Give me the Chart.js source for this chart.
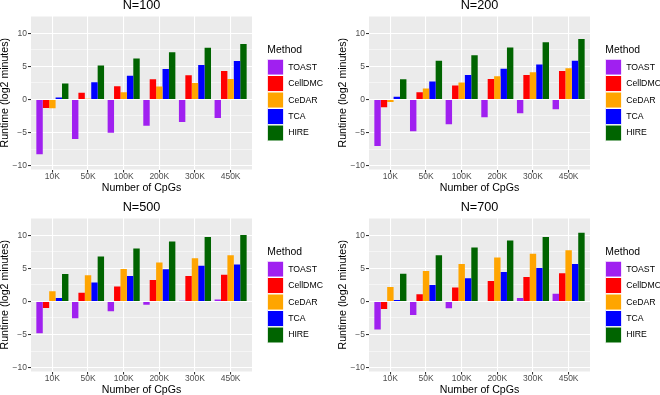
<!DOCTYPE html>
<html>
<head>
<meta charset="utf-8">
<script src="https://cdn.jsdelivr.net/npm/chart.js@4.4.0/dist/chart.umd.min.js"></script>
<style>
  body { margin: 0; background: #fff; }
  #wrap { position: relative; width: 660px; height: 395px; overflow: hidden; }
  #wrap canvas { position: absolute; }
</style>
</head>
<body>
<div id="wrap">
  <canvas id="c100" width="330" height="200" style="left:0;top:0"></canvas>
  <canvas id="c200" width="330" height="200" style="left:338px;top:0"></canvas>
  <canvas id="c500" width="330" height="200" style="left:0;top:202px"></canvas>
  <canvas id="c700" width="330" height="200" style="left:338px;top:202px"></canvas>
</div>
<script>
const categories = ["10K", "50K", "100K", "200K", "300K", "450K"];
const methods = ["TOAST", "CellDMC", "CeDAR", "TCA", "HIRE"];
const yTicks = [-10, -5, 0, 5, 10];

// runtime (log2 minutes), one row per method
const n100 = [
    [-8.3, -6.0, -5.05, -4.0, -3.4, -2.8],
    [-1.3, 1.0, 2.0, 3.05, 3.65, 4.3],
    [-1.35, 0.1, 1.1, 1.95, 2.5, 3.1],
    [0.3, 2.6, 3.6, 4.6, 5.2, 5.8],
    [2.4, 5.15, 6.2, 7.15, 7.8, 8.4]
];
const n200 = [
    [-7.05, -4.8, -3.75, -2.7, -2.1, -1.5],
    [-1.2, 1.1, 2.1, 3.1, 3.7, 4.3],
    [-0.4, 1.65, 2.55, 3.5, 4.1, 4.7],
    [0.4, 2.7, 3.7, 4.65, 5.3, 5.85],
    [3.05, 5.85, 6.7, 7.85, 8.65, 9.15]
];
const n500 = [
    [-4.8, -2.55, -1.5, -0.5, 0.1, 0.3],
    [-1.0, 1.3, 2.25, 3.25, 3.85, 4.05],
    [1.55, 3.95, 4.9, 5.9, 6.55, 7.0],
    [0.5, 2.85, 3.85, 4.85, 5.4, 5.6],
    [4.15, 6.8, 8.0, 9.05, 9.75, 10.05]
];
const n700 = [
    [-4.25, -2.05, -1.05, 0, 0.5, 1.15],
    [-1.15, 1.1, 2.1, 3.1, 3.7, 4.25],
    [2.2, 4.6, 5.65, 6.65, 7.2, 7.75],
    [0.2, 2.5, 3.5, 4.45, 5.05, 5.65],
    [4.2, 7.0, 8.15, 9.2, 9.75, 10.4]
];

const colors = ["#A020F0", "#FF0000", "#FFA500", "#0000FF", "#006400"];
const font = "'Liberation Sans', Arial, sans-serif";

// grey panel behind the bars
const panelBg = {
    id: "panelBg",
    beforeDraw(chart) {
        const { ctx, chartArea: a } = chart;
        ctx.save();
        ctx.fillStyle = "#EBEBEB";
        ctx.fillRect(a.left, a.top, a.right - a.left, a.bottom - a.top);
        ctx.restore();
    }
};

function isMajor(c) {
    return c.tick && yTicks.includes(c.tick.value);
}

// Chart
function makeChart(id, title, rows) {
    const ctx = document.getElementById(id).getContext("2d");

    return new Chart(ctx, {
        type: "bar",
        data: {
            datasets: methods.map((m, i) => ({
                label: m,
                data: rows[i].map((v, j) => ({ x: j + 1, y: v })),
                backgroundColor: colors[i],
                borderWidth: 0,
                categoryPercentage: 0.9,
                barPercentage: 1.0,
                yAxisID: "y"
            }))
        },
        options: {
            responsive: false,
            animation: false,
            font: { family: font },
            layout: { padding: 0 },
            scales: {
                x: {
                    type: "linear",
                    min: 0.4,
                    max: 6.6,
                    offset: false,
                    afterFit(s) { s.height = 30.5; },
                    ticks: {
                        stepSize: 1,
                        includeBounds: false,
                        autoSkip: false,
                        maxRotation: 0,
                        padding: 0,
                        color: "#4D4D4D",
                        font: { family: font, size: 8.5, lineHeight: 1 },
                        callback: v => categories[v - 1] ?? ""
                    },
                    grid: { color: "#FFFFFF", lineWidth: 1.07, offset: false, tickLength: 3, tickColor: "#333333", tickWidth: 1.07 },
                    border: { display: false },
                    title: {
                        display: true,
                        text: "Number of CpGs",
                        color: "#000",
                        font: { family: font, size: 10.6, lineHeight: 1 },
                        padding: { top: 2, bottom: 6.7 }
                    }
                },
                y: {
                    min: -10.6,
                    max: 12.62,
                    afterFit(s) { s.width = 31; },
                    ticks: {
                        stepSize: 2.5,
                        includeBounds: false,
                        autoSkip: false,
                        padding: 1,
                        color: "#4D4D4D",
                        font: { family: font, size: 8.5 },
                        callback: v => yTicks.includes(v) ? String(v).replace("-", "\u2212") : ""
                    },
                    grid: {
                        color: "#FFFFFF",
                        lineWidth: c => isMajor(c) ? 1.07 : 0.53,
                        tickLength: 3,
                        tickColor: c => isMajor(c) ? "#333333" : "rgba(0,0,0,0)",
                        tickWidth: 1.07
                    },
                    border: { display: false },
                    title: {
                        display: true,
                        text: "Runtime (log2 minutes)",
                        color: "#000",
                        font: { family: font, size: 10.6, lineHeight: 1 },
                        padding: { top: 0, bottom: 0 }
                    }
                },
                // empty space between panel and legend
                gap: {
                    type: "linear",
                    position: "right",
                    afterFit(s) { s.width = 15.35; },
                    ticks: { display: false },
                    grid: { display: false, drawTicks: false },
                    border: { display: false }
                }
            },
            plugins: {
                title: {
                    display: true,
                    text: title,
                    fullSize: false,
                    color: "#000",
                    font: { family: font, size: 12.7, weight: "normal", lineHeight: 0.9 },
                    padding: { top: 0, bottom: 4.57 }
                },
                legend: {
                    position: "right",
                    align: "start",
                    maxWidth: 62.65,
                    title: {
                        display: true,
                        text: "Method",
                        position: "start",
                        color: "#000",
                        font: { family: font, size: 10.4, lineHeight: 1.2 },
                        padding: { top: 44.8, bottom: 1.72 }
                    },
                    labels: {
                        boxWidth: 16.45,
                        boxHeight: 16.45,
                        padding: 0,
                        color: "#000",
                        font: { family: font, size: 8.7 },
                        generateLabels(chart) {
                            return Chart.defaults.plugins.legend.labels.generateLabels(chart)
                                .map(item => ({ ...item, strokeStyle: "#FFFFFF", lineWidth: 1.3 }));
                        }
                    }
                },
                tooltip: { enabled: false }
            }
        },
        plugins: [panelBg]
    });
}

makeChart("c100", "N=100", n100);
makeChart("c200", "N=200", n200);
makeChart("c500", "N=500", n500);
makeChart("c700", "N=700", n700);
</script>
</body>
</html>
